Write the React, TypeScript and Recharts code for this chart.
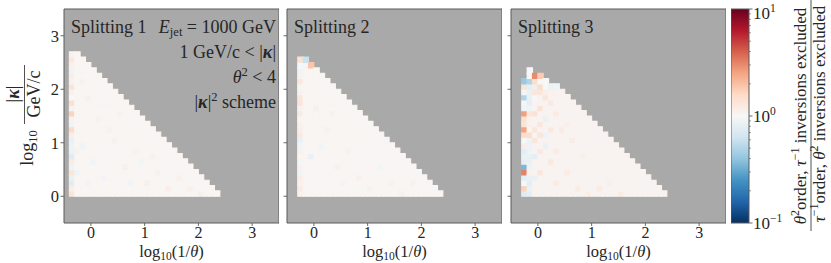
import React from 'react';
import { ComposedChart, XAxis, YAxis, ReferenceArea } from 'recharts';

// ---------------- data ----------------
const panelTitles = ['Splitting 1', 'Splitting 2', 'Splitting 3'];
const axisTicks = [0, 1, 2, 3];
const axisDomain: [number, number] = [-0.5, 3.5];
const binWidth = 0.1;
// left edge (log10(1/theta)) of first filled column in each panel
const firstBinEdge = [-0.4, -0.3, -0.3];
// number of filled bins (from log10|k| = 0 upward) in each column
const columnHeights1 = [27, 27, 26, 25, 24, 23, 22, 21, 20, 19, 18, 17, 16, 15, 14, 13, 12, 11, 10, 9, 8, 7, 6, 5, 4, 3, 2, 1];
const columnHeights2 = [26, 26, 25, 24, 23, 22, 21, 20, 19, 18, 17, 16, 15, 14, 13, 12, 11, 10, 9, 8, 7, 6, 5, 4, 3, 2, 1];
const columnHeights3 = [22, 24, 23, 23, 22, 21, 21, 20, 19, 18, 17, 16, 15, 14, 13, 12, 11, 10, 9, 8, 7, 6, 5, 4, 3, 2, 1];
// ratio in bins not listed below
const typicalRatio = [1.04, 1.04, 1.06];
// [column, row, ratio] for bins that stand out
const standout1: [number, number, number][] = [
  [0, 26, 1.1], [0, 25, 1.25], [0, 24, 1.1], [0, 23, 0.9], [0, 22, 1.15], [0, 21, 1.1], [0, 20, 1.3],
  [0, 19, 1.1], [0, 18, 1.0], [0, 17, 1.45], [0, 16, 1.1], [0, 15, 1.7], [0, 14, 1.1], [0, 13, 0.92],
  [0, 12, 1.55], [0, 11, 1.15], [0, 10, 0.85], [0, 9, 0.9], [0, 8, 0.88], [0, 7, 0.75], [0, 6, 1.2],
  [0, 5, 0.9], [0, 4, 1.3], [0, 3, 0.85], [0, 2, 0.78], [0, 1, 1.15], [0, 0, 1.35],
  [3, 18, 1.12], [5, 14, 1.1], [8, 10, 1.12], [4, 6, 0.93], [6, 3, 0.92], [10, 5, 1.12], [12, 8, 1.1],
  [14, 2, 1.12], [16, 4, 1.1], [18, 1, 1.15], [20, 3, 1.12], [2, 9, 0.9], [3, 2, 0.92], [7, 12, 1.1],
  [9, 15, 1.08], [11, 2, 0.93], [13, 6, 0.94], [22, 1, 1.12], [24, 0, 1.12], [15, 7, 1.1], [1, 4, 0.9],
  [1, 8, 1.1], [6, 17, 0.95], [2, 21, 1.1],
];
const standout2: [number, number, number][] = [
  [0, 25, 1.4], [1, 25, 0.6], [2, 24, 1.9], [1, 24, 0.95],
  [0, 24, 1.0], [0, 23, 0.93], [0, 22, 1.1], [0, 21, 1.25], [0, 20, 1.05], [0, 19, 1.1], [0, 18, 1.3],
  [0, 17, 1.35], [0, 16, 1.1], [0, 15, 1.2], [0, 14, 1.05], [0, 13, 1.1], [0, 12, 1.15], [0, 11, 1.25],
  [0, 10, 0.85], [0, 9, 0.92], [0, 8, 1.1], [0, 7, 1.05], [0, 6, 0.95], [0, 5, 1.1], [0, 4, 0.93],
  [0, 3, 1.15], [0, 2, 1.1], [0, 1, 1.2], [0, 0, 1.1],
  [2, 7, 0.85], [3, 16, 1.12], [5, 12, 1.1], [4, 9, 0.93], [7, 5, 1.12], [9, 8, 1.1], [11, 3, 1.12],
  [13, 1, 1.1], [15, 5, 0.94], [6, 15, 1.1], [8, 2, 0.93], [17, 2, 1.1], [19, 0, 1.12], [21, 2, 1.1],
];
const standout3: [number, number, number][] = [
  [0, 21, 0.42], [0, 20, 1.35], [0, 19, 0.95], [0, 18, 0.5], [0, 17, 0.97], [0, 16, 0.9], [0, 15, 2.6],
  [0, 14, 1.45], [0, 13, 1.35], [0, 12, 2.5], [0, 11, 1.5], [0, 10, 1.0], [0, 9, 1.15], [0, 8, 0.8],
  [0, 7, 0.85], [0, 6, 0.82], [0, 5, 0.35], [0, 4, 3.2], [0, 3, 0.8], [0, 2, 1.0], [0, 1, 1.7], [0, 0, 0.75],
  [1, 23, 1.0], [1, 22, 1.0], [1, 21, 0.5], [1, 20, 0.8], [1, 19, 0.85], [1, 18, 0.85], [1, 17, 0.82],
  [1, 16, 0.9], [1, 15, 1.3], [1, 14, 1.1], [1, 13, 1.1], [1, 12, 1.05], [1, 11, 1.5], [1, 10, 0.9],
  [1, 9, 0.88], [1, 8, 0.9], [1, 7, 0.85], [1, 6, 0.85], [1, 5, 0.88], [1, 4, 1.1], [1, 3, 0.85],
  [1, 2, 0.8], [1, 1, 0.85], [1, 0, 0.8],
  [2, 22, 3.0], [2, 21, 1.5], [2, 20, 0.85], [2, 19, 1.3], [2, 18, 1.0], [2, 15, 1.4], [2, 12, 1.3],
  [3, 22, 1.8], [3, 21, 1.0], [3, 20, 1.5], [3, 19, 1.3], [3, 16, 1.4],
  [4, 21, 1.0], [4, 20, 1.0], [4, 19, 1.15], [5, 20, 0.88], [5, 19, 1.1], [6, 20, 0.9],
  [4, 18, 1.3], [5, 17, 1.25], [6, 15, 1.2], [4, 14, 0.85], [3, 13, 1.3], [5, 12, 1.25], [7, 12, 1.2],
  [2, 10, 1.3], [4, 9, 0.85], [3, 8, 1.25], [6, 8, 1.2], [2, 7, 0.8], [5, 6, 1.25], [3, 4, 1.3],
  [8, 4, 1.2], [2, 3, 0.85], [6, 2, 1.2], [10, 1, 1.2], [12, 0, 1.15], [14, 1, 1.2], [16, 2, 1.15],
  [18, 0, 1.2], [9, 10, 1.2], [11, 7, 1.15], [8, 13, 1.15], [4, 11, 0.88], [3, 11, 1.3],
];
const colorbarMajorTicks = [0.1, 1, 10];
const colorbarMinorTicks = [0.2, 0.3, 0.4, 0.5, 0.6, 0.7, 0.8, 0.9, 2, 3, 4, 5, 6, 7, 8, 9];

// ---------------- styling helpers ----------------
const FONT = "'Liberation Serif', 'DejaVu Serif', serif";
const TEXT = '#262626';
const GREY = '#a9a9a9';
const SPINE = '#5a5a5a';
const RDBU_R = ['#053061', '#2166ac', '#4393c3', '#92c5de', '#d1e5f0', '#f7f7f7', '#fddbc7', '#f4a582', '#d6604d', '#b2182b', '#67001f'];

function hexToRgb(h: string) {
  return [parseInt(h.slice(1, 3), 16), parseInt(h.slice(3, 5), 16), parseInt(h.slice(5, 7), 16)];
}
function colorFor(v: number) {
  let t = (Math.log10(v) + 1) / 2;
  t = Math.max(0, Math.min(1, t));
  const p = t * 10;
  const i = Math.min(9, Math.floor(p));
  const f = p - i;
  const a = hexToRgb(RDBU_R[i]);
  const b = hexToRgb(RDBU_R[i + 1]);
  const c = a.map((x, k) => Math.round(x + (b[k] - x) * f));
  return `rgb(${c[0]},${c[1]},${c[2]})`;
}

const allHeights = [columnHeights1, columnHeights2, columnHeights3];
const allStandouts = [standout1, standout2, standout3];

function buildCells(p: number) {
  const lookup = new Map<string, number>();
  allStandouts[p].forEach(([c, r, v]) => lookup.set(`${c}-${r}`, v));
  const cells: { x1: number; x2: number; y1: number; y2: number; v: number }[] = [];
  allHeights[p].forEach((h, c) => {
    for (let r = 0; r < h; r++) {
      const x1 = firstBinEdge[p] + c * binWidth;
      const y1 = r * binWidth;
      cells.push({ x1, x2: x1 + binWidth, y1, y2: y1 + binWidth, v: lookup.get(`${c}-${r}`) ?? typicalRatio[p] });
    }
  });
  return cells;
}

const PLOT_W = 215;

function XLabel(props: any) {
  const vb = props.viewBox;
  return (
    <text x={vb.x + vb.width / 2} y={vb.y + 34} textAnchor="middle" fontFamily={FONT} fontSize={16.5} fill={TEXT}>
      log<tspan fontSize={11.5} dy={3}>10</tspan><tspan dy={-3}>(1/</tspan><tspan fontStyle="italic">θ</tspan>)
    </text>
  );
}

function Panel({ p, left, yWidth, showYLabels }: { p: number; left: number; yWidth: number; showYLabels: boolean }) {
  const cells = buildCells(p);
  return (
    <div style={{ position: 'absolute', left, top: 0 }}>
      <ComposedChart width={yWidth + PLOT_W} height={263} margin={{ top: 9, right: 0, bottom: 10, left: 0 }}>
        <XAxis
          type="number"
          dataKey="x"
          domain={axisDomain}
          allowDataOverflow
          ticks={axisTicks}
          interval={0}
          height={30}
          axisLine={false}
          tickLine={{ stroke: SPINE, strokeWidth: 0.9 }}
          tickSize={3}
          tickMargin={1}
          tick={{ fontFamily: FONT, fontSize: 16, fill: TEXT }}
          label={<XLabel />}
        />
        <YAxis
          type="number"
          dataKey="y"
          domain={axisDomain}
          allowDataOverflow
          ticks={axisTicks}
          interval={0}
          width={yWidth}
          axisLine={false}
          tickLine={{ stroke: SPINE, strokeWidth: 0.9 }}
          tickSize={3.5}
          tickMargin={1.5}
          tick={showYLabels ? { fontFamily: FONT, fontSize: 16.5, fill: TEXT } : () => <g />}
        />
        <ReferenceArea x1={axisDomain[0]} x2={axisDomain[1]} y1={axisDomain[0]} y2={axisDomain[1]}
          fill={GREY} fillOpacity={1} stroke={SPINE} strokeWidth={1} ifOverflow="visible" />
        {cells.map((c, i) => {
          const col = colorFor(c.v);
          return (
            <ReferenceArea key={i} x1={c.x1} x2={c.x2} y1={c.y1} y2={c.y2}
              fill={col} fillOpacity={1} stroke={col} strokeWidth={1.1} ifOverflow="visible" />
          );
        })}
      </ComposedChart>
    </div>
  );
}

function ColorbarTick(props: any) {
  const { x, y, payload } = props;
  const v = payload.value;
  const major = colorbarMajorTicks.includes(v);
  const exp = Math.round(Math.log10(v));
  // keep the top label inside the figure, as the reference does
  const shift = exp > 0 ? 3.5 : 0;
  return (
    <g>
      <line x1={x} x2={x + (major ? 3.5 : 2)} y1={y} y2={y} stroke={SPINE} strokeWidth={major ? 0.9 : 0.6} />
      {major && (
        <text x={x + 4} y={y + shift} dy="0.36em" fontFamily={FONT} fontSize={17} fill={TEXT}>
          10<tspan fontSize={11.5} dy={-7}>{exp < 0 ? '−1' : String(exp)}</tspan>
        </text>
      )}
    </g>
  );
}

function Colorbar() {
  const ticks = [...colorbarMajorTicks, ...colorbarMinorTicks].sort((a, b) => a - b);
  return (
    <div style={{ position: 'absolute', left: 731, top: 0 }}>
      <ComposedChart width={78} height={263} margin={{ top: 9, right: 0, bottom: 40, left: 0 }}>
        <defs>
          <linearGradient id="cbGrad" x1="0" y1="1" x2="0" y2="0">
            {RDBU_R.map((c, i) => (
              <stop key={i} offset={`${i * 10}%`} stopColor={c} />
            ))}
          </linearGradient>
        </defs>
        <XAxis type="number" dataKey="x" domain={[0, 1]} allowDataOverflow hide />
        <YAxis
          type="number"
          dataKey="y"
          orientation="right"
          scale="log"
          domain={[0.1, 10]}
          allowDataOverflow
          ticks={ticks}
          interval={0}
          width={60}
          axisLine={false}
          tickLine={false}
          tickSize={0}
          tickMargin={0}
          tick={<ColorbarTick />}
        />
        <ReferenceArea x1={0} x2={1} y1={0.1} y2={10} fill="url(#cbGrad)" fillOpacity={1}
          stroke={SPINE} strokeWidth={1} ifOverflow="visible" />
      </ComposedChart>
    </div>
  );
}

function Overlay() {
  const t = { fontFamily: FONT, fill: TEXT, fontSize: 18 } as const;
  const panelLefts = [64, 287, 511];
  return (
    <svg width={831} height={263} style={{ position: 'absolute', left: 0, top: 0, pointerEvents: 'none' }}>
      {panelTitles.map((s, i) => (
        <text key={s} x={panelLefts[i] + 7} y={33} {...t}>{s}</text>
      ))}
      <text x={276} y={33} textAnchor="end" {...t}>
        <tspan fontStyle="italic">E</tspan><tspan fontSize={12.5} dy={3}>jet</tspan><tspan dy={-3}> = 1000 GeV</tspan>
      </text>
      <text x={276} y={58} textAnchor="end" {...t}>
        1 GeV/c &lt; |<tspan fontWeight="bold" fontStyle="italic">κ</tspan>|
      </text>
      <text x={276} y={83} textAnchor="end" {...t}>
        <tspan fontStyle="italic">θ</tspan><tspan fontSize={12.5} dy={-7}>2</tspan><tspan dy={7}> &lt; 4</tspan>
      </text>
      <text x={276} y={108} textAnchor="end" {...t}>
        |<tspan fontWeight="bold" fontStyle="italic">κ</tspan>|<tspan fontSize={12.5} dy={-7}>2</tspan><tspan dy={7}> scheme</tspan>
      </text>

      {/* y-axis label */}
      <text transform="translate(33,148) rotate(-90)" textAnchor="middle" {...t}>
        log<tspan fontSize={12.5} dy={4}>10</tspan>
      </text>
      <text transform="translate(19,94) rotate(-90)" textAnchor="middle" {...t}>
        |<tspan fontWeight="bold" fontStyle="italic">κ</tspan>|
      </text>
      <line x1={24.5} x2={24.5} y1={65} y2={124} stroke={TEXT} strokeWidth={0.8} />
      <text transform="translate(39.5,94) rotate(-90)" textAnchor="middle" {...t}>GeV/c</text>

      {/* colorbar label */}
      <text transform="translate(806,116) rotate(-90)" textAnchor="middle" {...t} fontSize={17}>
        <tspan fontStyle="italic">θ</tspan><tspan fontSize={12} dy={-7}>2</tspan><tspan dy={7}>order, </tspan>
        <tspan fontStyle="italic">τ</tspan><tspan fontSize={12} dy={-7}>−1</tspan><tspan dy={7}> inversions excluded</tspan>
      </text>
      <line x1={811} x2={811} y1={0} y2={231} stroke={TEXT} strokeWidth={0.8} />
      <text transform="translate(825,114) rotate(-90)" textAnchor="middle" {...t} fontSize={17}>
        <tspan fontStyle="italic">τ</tspan><tspan fontSize={12} dy={-7}>−1</tspan><tspan dy={7}>order, </tspan>
        <tspan fontStyle="italic">θ</tspan><tspan fontSize={12} dy={-7}>2</tspan><tspan dy={7}> inversions excluded</tspan>
      </text>
    </svg>
  );
}

export default function App() {
  return (
    <div style={{ position: 'absolute', left: 0, top: 0, width: 831, height: 263, background: '#fff', overflow: 'hidden' }}>
      <Panel p={0} left={0} yWidth={64} showYLabels />
      <Panel p={1} left={277} yWidth={10} showYLabels={false} />
      <Panel p={2} left={501} yWidth={10} showYLabels={false} />
      <Colorbar />
      <Overlay />
    </div>
  );
}
